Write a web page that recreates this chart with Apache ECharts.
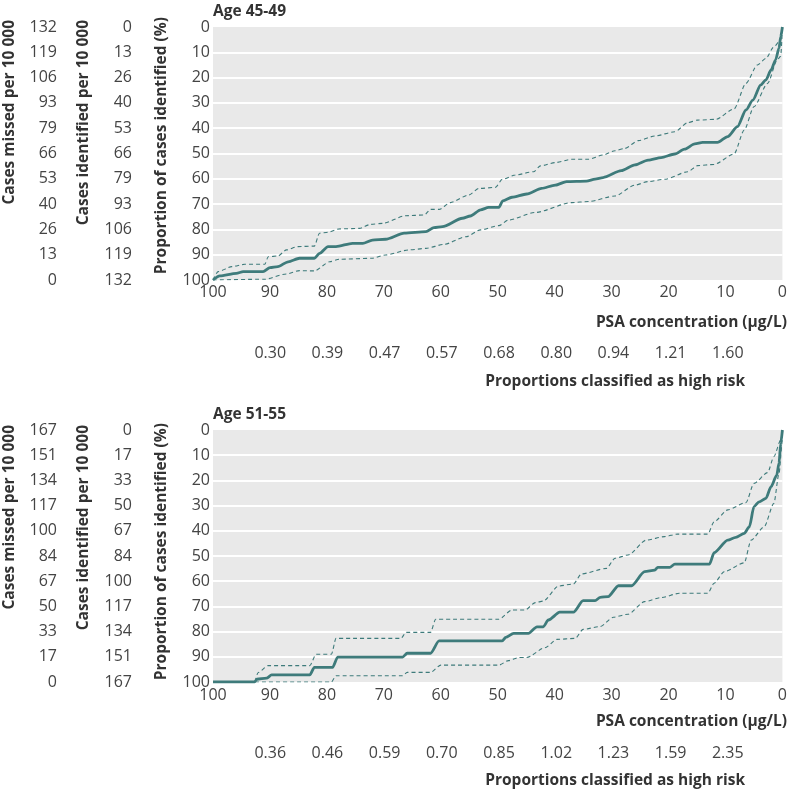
<!DOCTYPE html>
<html><head><meta charset="utf-8">
<script src="https://cdn.jsdelivr.net/npm/echarts@6/dist/echarts.min.js"></script>
<style>html,body{margin:0;padding:0;background:#fff}#c{width:790px;height:798px}</style>
</head><body><div id="c"></div><script>
// ---------- DATA ----------
// Tick labels (bottom -> top of the panel)
const missedTop = ['0','13','26','40','53','66','79','93','106','119','132'];
const identifiedTop = ['132','119','106','93','79','66','53','40','26','13','0'];
const psaTop = ['0.30','0.39','0.47','0.57','0.68','0.80','0.94','1.21','1.60'];
const missedBottom = ['0','17','33','50','67','84','100','117','134','151','167'];
const identifiedBottom = ['167','151','134','117','100','84','67','50','33','17','0'];
const psaBottom = ['0.36','0.46','0.59','0.70','0.85','1.02','1.23','1.59','2.35'];

// Age 45-49: [proportion classified high risk %, proportion of cases identified %]
const top45Main = [[100,100],[98.8,98.4],[95.9,97.4],[94.7,96.7],[91.2,96.7],[90,95.1],[88.6,94.7],[86.8,92.8],[84.8,91.4],[82.2,91.4],[81.3,89.5],[79.8,86.8],[78.4,86.8],[75.5,85.5],[73.7,85.5],[72,84.2],[69.7,83.9],[66.4,81.5],[62.6,80.9],[61.2,79.3],[59.7,78.9],[56.2,75.6],[54.8,74.7],[53,72.3],[51.6,71.3],[49.8,71.3],[49.1,68.7],[47.5,67.3],[44.9,66],[42.3,63.8],[39.9,62.5],[37.9,61.1],[34.4,60.9],[32.9,60.1],[31.5,59.5],[28.3,56.8],[25.9,54.5],[23.6,52.6],[21.3,51.6],[18.9,50.2],[17.2,48.3],[15.4,46.2],[14,45.6],[11.4,45.6],[9.6,43.3],[7.9,39.4],[6.4,32.8],[5.2,28.9],[3.8,22.9],[2.9,20.9],[2.0,17],[1.2,13],[0.6,8.4],[0.3,3.8],[0,0]];
const top45Upper = [[100,100],[99.1,96.7],[96.7,94.7],[94.4,93.8],[90.9,93.8],[90.3,90.8],[88.6,90.5],[87.1,88.1],[85.1,86.8],[82.2,86.6],[81.3,81.5],[79.8,81.1],[77.8,79.8],[74.3,79.6],[72.3,78],[70.2,77.6],[66.2,74.6],[62.9,74.3],[61.8,72.1],[60.3,72.1],[58.3,69.4],[55.1,66.4],[53.3,63.8],[50.4,63.4],[49.2,60.2],[46.9,58.5],[43.7,57.2],[42.5,54.9],[39.9,53.6],[37,52.3],[34.1,52.3],[31.5,50.6],[29.4,48.9],[27.7,48],[25.3,44.9],[22.4,43.1],[18.9,41.4],[16.6,37.8],[14.9,36.8],[11.7,36.5],[8.5,32.4],[6.4,22.3],[4.4,15],[2.9,12.4],[1.5,7.8],[0.3,5.1],[0,0]];
const top45Lower = [[100,100],[90.9,99.7],[87.1,97.6],[84.8,96.3],[82.2,96.4],[79.5,92.8],[77.8,91.8],[72,91.4],[69.7,90.1],[65.6,88.1],[62.6,87.5],[59.4,85.9],[55.6,82.9],[53,80.2],[49.8,78.5],[48.1,76.3],[43.4,73.3],[37,69.4],[34.1,69],[29.4,66.8],[25.9,62.5],[23.6,61.1],[20.7,60.2],[16.6,57.2],[14.9,54.8],[12,54.3],[8.5,50.2],[6.7,40.7],[5,31.5],[2.6,22.3],[0.9,13],[0.3,11.5],[0,0]];

// Age 51-55
const bot51Main = [[100,100],[92.7,100],[92.3,98.9],[90.6,98.5],[89.7,97.2],[83,97.2],[82.2,94.2],[79,94.2],[78.1,90.1],[66.7,90.1],[65.9,88.6],[61.8,88.6],[60.3,83.7],[49.2,83.7],[48.6,82.3],[47.2,80.7],[44.6,80.7],[43.1,78.1],[42,78.1],[41.1,75.4],[39.1,72.3],[36.7,72.3],[35,67.7],[32.9,67.7],[32,66.4],[30.6,66.1],[28.8,61.8],[26.5,61.8],[24.2,56.2],[22.4,55.6],[21.9,54.5],[19.8,54.5],[18.9,53.2],[12.8,53.2],[12,48.7],[9.6,43.7],[8.2,42.6],[6.7,41],[5.8,38.4],[5,30.4],[4.1,28.5],[2.9,27.1],[2,22.5],[1,17.9],[0.6,13.2],[0.3,5.3],[0,0]];
const bot51Upper = [[100,100],[92.7,100],[92.1,96.3],[90.3,93.5],[83,93.5],[81.9,89],[79.2,89],[78.4,82.7],[67,82.7],[66.1,80.3],[61.8,80.3],[60.9,75.1],[49.8,75.1],[47.5,71.4],[45.2,71.4],[43.4,68.5],[42,67.9],[39.3,61.9],[36.7,61.1],[35.3,57.1],[30.9,54.9],[29.4,50.9],[27.1,49.6],[23.9,43.7],[20.7,42.3],[18.4,41.3],[13.1,41.3],[12,36.4],[9.6,31.7],[6.4,28.8],[5,21.2],[2.6,16.9],[1.5,10.6],[0.3,4],[0,0]];
const bot51Lower = [[100,100],[79.2,100],[78.4,97.5],[66.7,97.5],[65.9,96.2],[61.8,96.2],[60,93.3],[49.8,93.3],[48.1,91.5],[46.3,90.3],[44.9,90.3],[41.7,86.4],[39.6,83.1],[36.4,82.7],[35,79.1],[32,78],[29.7,74.3],[27.1,73.1],[24.2,68.1],[21.3,66.5],[18.1,64.8],[13.1,64.8],[12,60.8],[10.2,56.2],[6.7,52.7],[5.5,43.7],[3.2,38.4],[1.5,29.1],[0.6,17.2],[0,4],[0,0]];

// ---------- CHART ----------
const C = '#3e7b7b';
const numLabel = {fontFamily: 'Open Sans', fontSize: 16, color: '#444'};
const BOLD = 'bold 15.5px "Open Sans"';
const BC = '#333';

function valueX(grid, margin) {
  return {type:'value', gridIndex:grid, inverse:true, min:0, max:100, interval:10,
    axisLine:{show:false}, axisTick:{show:true, inside:true, length:4, lineStyle:{color:'#fff', width:1}},
    splitLine:{show:false},
    axisLabel:Object.assign({margin:margin, verticalAlign:'middle'}, numLabel)};
}
function propY(grid) {
  return {type:'value', gridIndex:grid, inverse:true, min:0, max:100, interval:10,
    axisLine:{show:false}, axisTick:{show:false},
    splitLine:{show:true, showMinLine:false, showMaxLine:false, lineStyle:{color:'#fff', width:2}},
    axisLabel:Object.assign({margin:3}, numLabel)};
}
function catY(grid, data, offset) {
  return {type:'category', gridIndex:grid, data:data, boundaryGap:false, position:'left', offset:offset,
    axisLine:{show:false}, axisTick:{show:false}, splitLine:{show:false},
    axisLabel:Object.assign({margin:3, interval:0}, numLabel)};
}
function rowX(grid, data) {
  return {type:'category', gridIndex:grid, data:data, boundaryGap:true,
    axisLine:{show:false}, axisTick:{show:false}, splitLine:{show:false},
    axisLabel:Object.assign({margin:0, verticalAlign:'middle', interval:0}, numLabel)};
}
function lines(xi, yi, main, upper, lower) {
  const base = {type:'line', xAxisIndex:xi, yAxisIndex:yi, symbol:'none', smooth:0.25, smoothMonotone:'x', silent:true, animation:false};
  return [
    Object.assign({data:upper, lineStyle:{color:C, width:1.1, type:[4,3]}}, base),
    Object.assign({data:lower, lineStyle:{color:C, width:1.1, type:[4,3]}}, base),
    Object.assign({data:main, lineStyle:{color:C, width:2.8}}, base)
  ];
}
function txt(text, x, y, align, rot) {
  return {type:'text', x:x, y:y, rotation:rot||0,
    style:{text:text, font:BOLD, fill:BC, textAlign:align||'left', textVerticalAlign:'middle'}};
}

const option = {
  animation:false,
  grid:[
    {left:213, top:27, width:572, height:253, show:true, backgroundColor:'#e9e9e9', borderWidth:0},
    {left:213, top:430, width:572, height:252, show:true, backgroundColor:'#e9e9e9', borderWidth:0},
    {left:241.6, top:352, width:514.8, height:1},
    {left:241.6, top:752, width:514.8, height:1}
  ],
  xAxis:[valueX(0,12), valueX(1,13), rowX(2, psaTop), rowX(3, psaBottom)],
  yAxis:[
    propY(0), catY(0, identifiedTop, 78), catY(0, missedTop, 153),
    propY(1), catY(1, identifiedBottom, 78), catY(1, missedBottom, 153),
    {type:'value', gridIndex:2, show:false}, {type:'value', gridIndex:3, show:false}
  ],
  series:[].concat(lines(0,0,top45Main,top45Upper,top45Lower), lines(1,3,bot51Main,bot51Upper,bot51Lower)),
  graphic:[
    txt('Age 45-49', 213, 12),
    txt('PSA concentration (μg/L)', 787, 323, 'right'),
    txt('Proportions classified as high risk', 745, 382, 'right'),
    txt('Cases missed per 10 000', 10, 20, 'right', Math.PI/2),
    txt('Cases identified per 10 000', 84, 20, 'right', Math.PI/2),
    txt('Proportion of cases identified (%)', 162, 17, 'right', Math.PI/2),
    txt('Age 51-55', 213, 415),
    txt('PSA concentration (μg/L)', 787, 722, 'right'),
    txt('Proportions classified as high risk', 745, 781, 'right'),
    txt('Cases missed per 10 000', 10, 425, 'right', Math.PI/2),
    txt('Cases identified per 10 000', 84, 425, 'right', Math.PI/2),
    txt('Proportion of cases identified (%)', 162, 423, 'right', Math.PI/2)
  ]
};
const chart = echarts.init(document.getElementById('c'), null, {renderer:'canvas'});
chart.setOption(option);
</script></body></html>
